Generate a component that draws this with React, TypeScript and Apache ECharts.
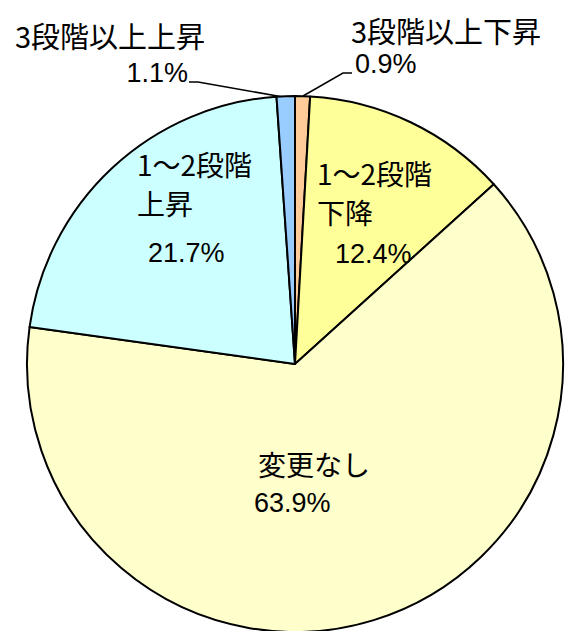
import React, { useEffect, useRef } from "react";
import * as echarts from "echarts";

const categories = ["3段階以上下昇", "1～2段階下降", "変更なし", "1～2段階上昇", "3段階以上上昇"];
const labelText = [["3段階以上下昇"], ["1～2段階", "下降"], ["変更なし"], ["1～2段階", "上昇"], ["3段階以上上昇"]];
const values = [0.9, 12.4, 63.9, 21.7, 1.1];
const colors = ["#FFCC99", "#FFFF99", "#FFFFCC", "#CCFFFF", "#99CCFF"];

const NAME_FONT = '"Noto Sans CJK JP", "Noto Sans", sans-serif';
const PCT_FONT = '"Liberation Sans", "Noto Sans", sans-serif';

// label block placement, line heights, paddings
const layout = [
  { x: 351, y: 12, align: "left", fs: 29, nlh: 35, plh: 34, pad: [0, 0, 0, 4], outside: true, line: [[303, 96], [343, 73], [352, 73]] },
  { x: 317, y: 153, align: "left", fs: 28, nlh: 39, plh: 45, pad: [0, 0, 0, 18], outside: false },
  { x: 254, y: 444, align: "left", fs: 28, nlh: 39, plh: 39, pad: [0, 0, 0, 0], npad: [0, 0, 0, 4], outside: false },
  { x: 137, y: 144, align: "left", fs: 28, nlh: 39, plh: 61, pad: [0, 0, 0, 11], outside: false },
  { x: 205, y: 15, align: "right", fs: 29, nlh: 39, plh: 38, pad: [0, 17, 0, 0], outside: true, line: [[283, 97], [198, 82], [189, 82]] },
];

export default function App() {
  const ref = useRef<HTMLDivElement>(null);
  useEffect(() => {
    if (!ref.current) return;
    const chart = echarts.init(ref.current, null, { renderer: "svg" });
    const data = categories.map((name, i) => {
      const L = layout[i] as any;
      return {
        name,
        value: values[i],
        itemStyle: { color: colors[i] },
        label: {
          position: L.outside ? "outside" : "inside",
          formatter: () =>
            labelText[i].map((t) => `{n|${t}}`).join("\n") + `\n{p|${values[i].toFixed(1)}%}`,
          rich: {
            n: {
              fontFamily: NAME_FONT,
              fontSize: L.fs,
              fontWeight: "normal",
              color: "#000",
              lineHeight: L.nlh,
              padding: L.npad || [0, 0, 0, 0],
            },
            p: {
              fontFamily: PCT_FONT,
              fontSize: 27,
              color: "#000",
              lineHeight: L.plh,
              padding: L.pad,
            },
          },
        },
        labelLine: {
          show: !!L.outside,
          lineStyle: { color: "#000", width: 1.5 },
        },
      };
    });
    chart.setOption({
      animation: false,
      backgroundColor: "#fff",
      series: [
        {
          type: "pie",
          center: [295, 364],
          radius: [0, 268],
          startAngle: 90,
          clockwise: true,
          avoidLabelOverlap: false,
          silent: true,
          itemStyle: { borderColor: "#000", borderWidth: 2 },
          label: { show: true },
          labelLine: { show: false },
          labelLayout: (params: any) => {
            const L = layout[params.dataIndex] as any;
            const out: any = { x: L.x, y: L.y, align: L.align, verticalAlign: "top" };
            if (L.line) out.labelLinePoints = L.line;
            return out;
          },
          data,
        },
      ],
    });
    return () => chart.dispose();
  }, []);
  return (
    <div
      ref={ref}
      style={{ position: "absolute", left: 0, top: 0, width: 565, height: 631 }}
    />
  );
}
